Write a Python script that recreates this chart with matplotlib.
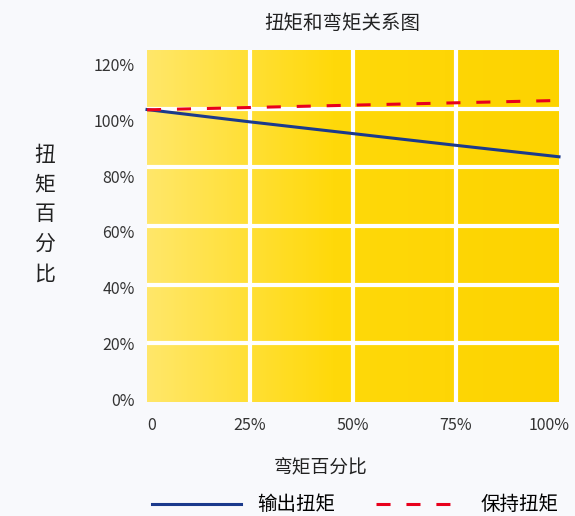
import numpy as np
import matplotlib
matplotlib.use("Agg")
import matplotlib.pyplot as plt
from matplotlib.colors import LinearSegmentedColormap
from matplotlib.transforms import ScaledTranslation

plt.rcParams["font.family"] = ["Noto Sans CJK SC", "DejaVu Sans"]

# data
bend_pct = [0, 25, 50, 75, 100]
output_torque = [99.7, 95.5, 91.5, 87.5, 83.6]
holding_torque = [99.6, 100.4, 101.2, 102.0, 102.8]
x_ticks = [0, 25, 50, 75, 100]
x_labels = ["0", "25%", "50%", "75%", "100%"]
y_grid = [0, 20, 40, 60, 80, 100, 120]
y_labels = ["0%", "20%", "40%", "60%", "80%", "100%", "120%"]
# the reference prints its y labels a little below the grid lines
y_label_pos = [1, 20, 39, 58, 77, 96, 115]

fig = plt.figure(figsize=(5.75, 5.16), dpi=100)
fig.patch.set_facecolor("#f8f9fc")
ax = fig.add_axes([0.2557, 0.2209, 0.7165, 0.6822])

# yellow gradient background
cmap = LinearSegmentedColormap.from_list(
    "bg", [(0, "#ffe76a"), (0.45, "#ffd90a"), (1, "#fdd300")])
grad = np.linspace(0, 1, 256).reshape(1, -1)
ax.imshow(grad, cmap=cmap, aspect="auto", extent=(0, 100, 0, 120), zorder=0)

ax.set_xlim(0, 100)
ax.set_ylim(0, 120)
ax.set_xticks(x_ticks)
ax.set_xticklabels(x_labels)
ax.set_yticks(y_label_pos)
ax.set_yticklabels(y_labels)
for x in x_ticks[1:-1]:
    ax.axvline(x, color="white", lw=3, zorder=1)
for y in y_grid[1:-1]:
    ax.axhline(y, color="white", lw=3, zorder=1)
ax.tick_params(length=0, labelsize=11.5, colors="#333333")
ax.tick_params(axis="y", pad=9)
ax.tick_params(axis="x", pad=11)
xlabs = ax.get_xticklabels()
xlabs[0].set_ha("left")
xlabs[-1].set_transform(xlabs[-1].get_transform()
                        + ScaledTranslation(-0.1, 0, fig.dpi_scale_trans))
for s in ax.spines.values():
    s.set_visible(False)

l1, = ax.plot(bend_pct, output_torque, color="#1b3a8c", lw=2.2,
              zorder=3, clip_on=False, label="输出扭矩")
l2, = ax.plot(bend_pct, holding_torque, color="#e8001c", lw=2.2,
              dashes=(4.6, 5.2), zorder=3, clip_on=False, label="保持扭矩")

fig.text(342 / 575, 1 - 23 / 516, "扭矩和弯矩关系图", fontsize=14,
         color="#222222", ha="center", va="center")
fig.text(321 / 575, 1 - 468 / 516, "弯矩百分比", fontsize=13.5,
         color="#222222", ha="center", va="center")
fig.text(0.078, 0.585, "扭\n矩\n百\n分\n比", fontsize=15, color="#222222",
         ha="center", va="center", linespacing=1.45)

fig.legend(handles=[l1, l2], loc="center left",
           bbox_to_anchor=(152 / 575, 1 - 505 / 516),
           ncol=2, frameon=False, fontsize=14, handlelength=4.6,
           columnspacing=2.1, handletextpad=0.8, borderpad=0,
           borderaxespad=0)

fig.savefig("out.png", dpi=100, facecolor=fig.get_facecolor())
